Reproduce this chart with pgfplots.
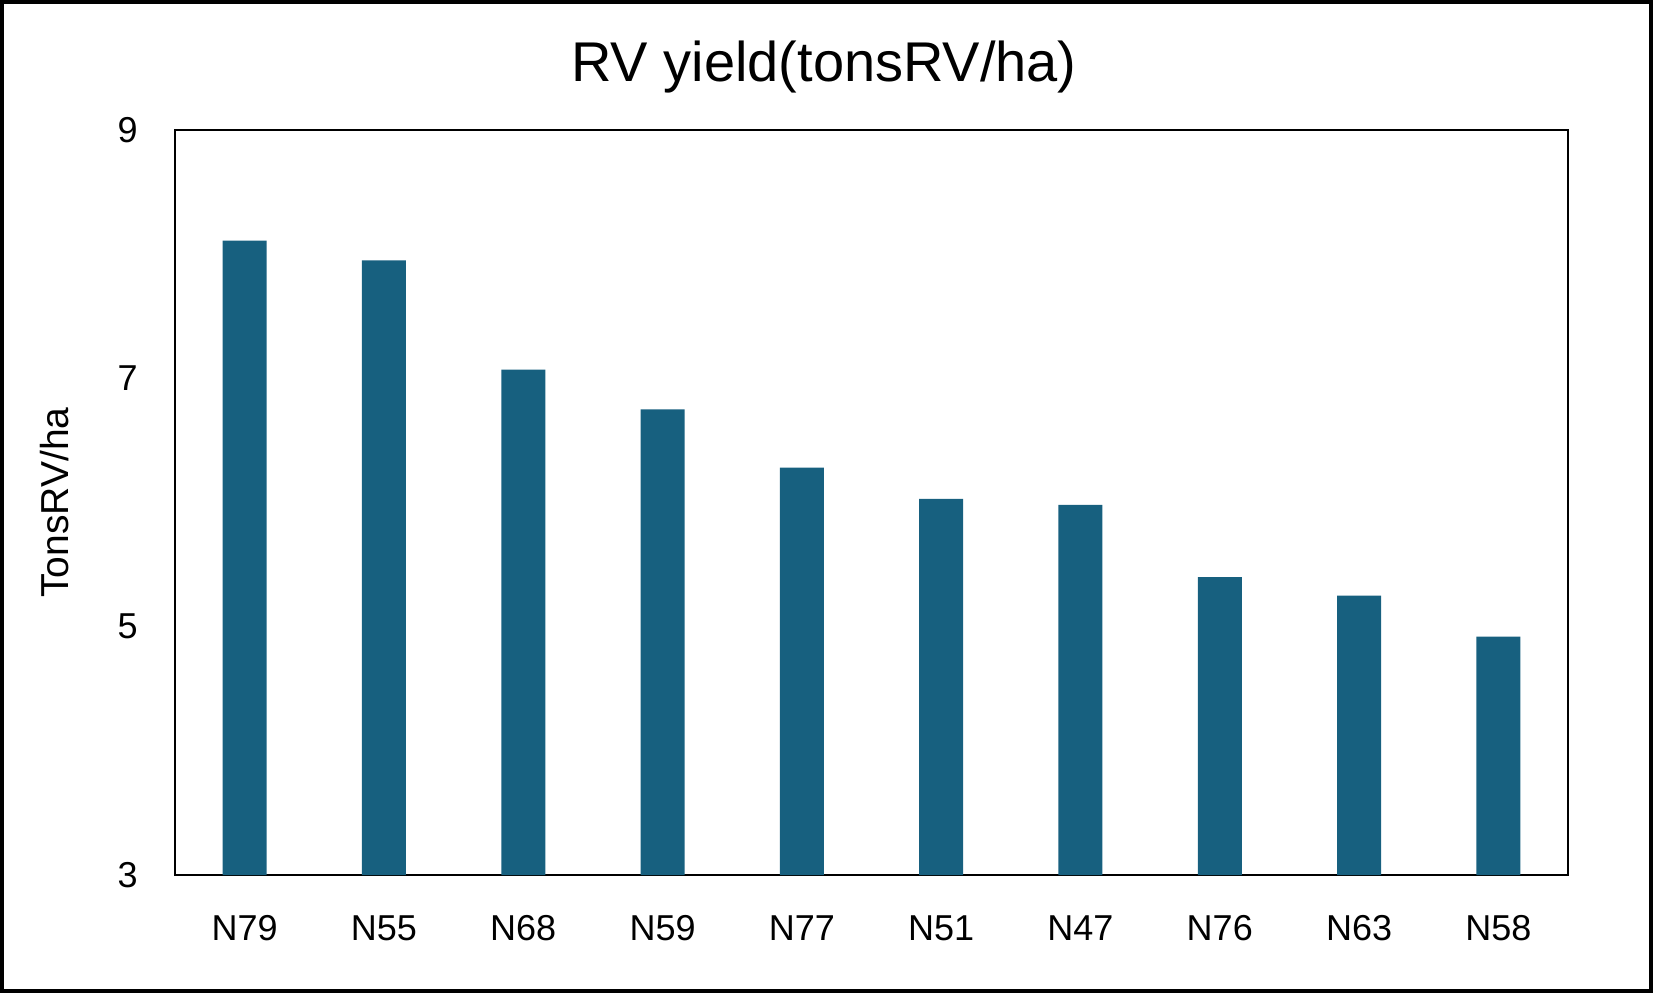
\documentclass[border=0pt]{standalone}
\usepackage{fontspec}
\setmainfont{Liberation Sans}
\usepackage{pgfplots}
\pgfplotsset{compat=1.18}
\definecolor{barblue}{HTML}{17607F}
\begin{document}
\begin{tikzpicture}
\draw[line width=2pt] (1pt,1pt) rectangle (825.5pt,495.5pt);
\node[font=\fontsize{28}{33}\selectfont, anchor=center, inner sep=0pt] at (412pt,463pt) {RV yield(tonsRV/ha)};
\begin{axis}[
  at={(87.5pt,59pt)}, anchor=south west,
  scale only axis, width=696.5pt, height=372.5pt,
  xmin=-0.5, xmax=9.5, ymin=3, ymax=9,
  ytick={3,5,7,9},
  xtick=data,
  xticklabels={N79,N55,N68,N59,N77,N51,N47,N76,N63,N58},
  major tick length=0pt,
  axis line style={line width=1.4pt},
  ticklabel style={font=\fontsize{18}{22}\selectfont},
  /pgf/number format/assume math mode=true,
  yticklabel style={inner sep=0pt, anchor=east, xshift=-18.5pt},
  xticklabel style={inner sep=0pt, anchor=north, yshift=-20pt},
  ylabel={TonsRV/ha},
  ylabel style={font=\fontsize{19.5}{23}\selectfont, at={(axis description cs:-0.0861,0.5)}, anchor=center},
  ybar, bar width=22pt,
  clip=true,
]
\addplot[fill=barblue, draw=none] coordinates {
  (0,8.11) (1,7.95) (2,7.07) (3,6.75) (4,6.28)
  (5,6.03) (6,5.98) (7,5.40) (8,5.25) (9,4.92)
};
\end{axis}
\end{tikzpicture}
\end{document}
